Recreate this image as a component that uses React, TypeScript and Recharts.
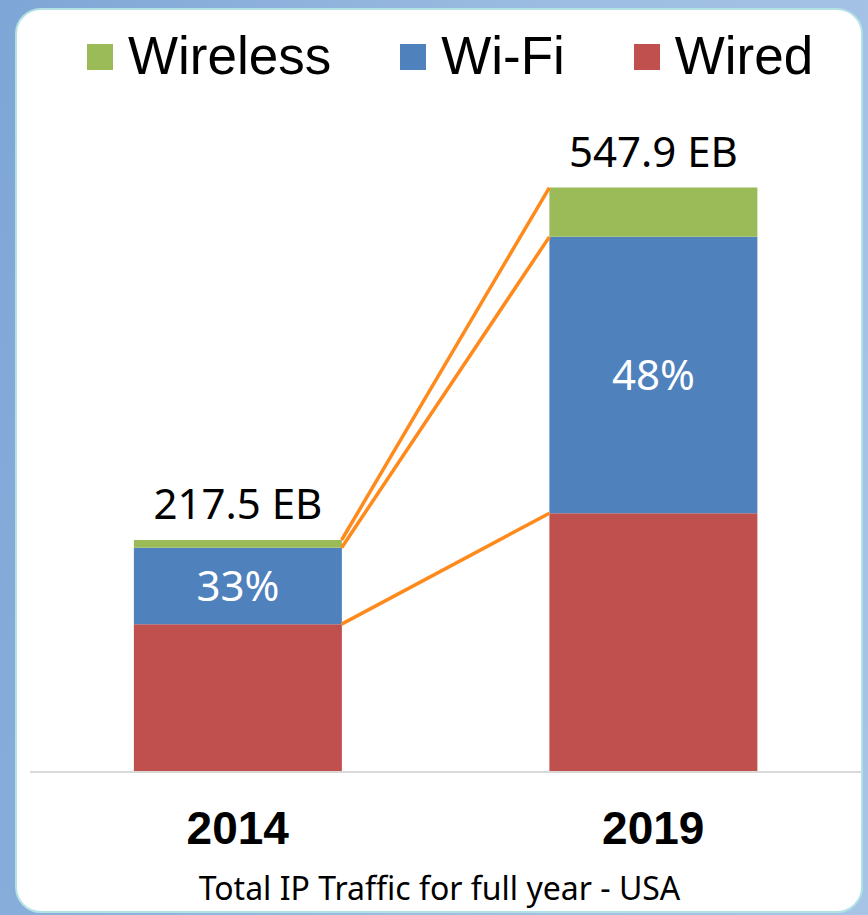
import React from "react";
import {
  BarChart,
  Bar,
  XAxis,
  YAxis,
  LabelList,
  ReferenceLine,
  Label,
} from "recharts";

const years = ["2014", "2019"];
const wired = [138.6, 242.6];
const wifi = [71.7, 259.1];
const wireless = [7.2, 46.2];
const wifiShare = [33, 48];

const seriesNames = ["Wireless", "Wi-Fi", "Wired"];
const seriesColors = ["#9BBB59", "#4F81BD", "#C0504D"];

const data = years.map((year, i) => ({
  year,
  wired: wired[i],
  wifi: wifi[i],
  wireless: wireless[i],
  total: wired[i] + wifi[i] + wireless[i],
  share: wifiShare[i],
}));

// stack tops joined by the orange lines: wired, wired+wifi, total
const connectors = [
  [wired[0], wired[1]],
  [wired[0] + wifi[0], wired[1] + wifi[1]],
  [data[0].total, data[1].total],
];

// bar is 50% of its band (barCategoryGap 25%), so half a bar = 0.25 of the band step
const barHalf = 0.25;

const SANS = "'Liberation Sans', Arial, sans-serif";
const CAL = "'Noto Sans', sans-serif";

const YearTick = ({ x, y, payload }: any) => (
  <text
    x={x}
    y={y + 64}
    textAnchor="middle"
    fontFamily={SANS}
    fontWeight="bold"
    fontSize={46}
    fill="#000"
  >
    {payload.value}
  </text>
);

// segment comes in centre to centre; pull the ends out to the bar edges
const EdgeLine = (p: any) => {
  const d = (p.x2 - p.x1) * barHalf;
  return (
    <line
      x1={p.x1 + d}
      y1={p.y1}
      x2={p.x2 - d}
      y2={p.y2}
      stroke="#FF8A1C"
      strokeWidth={3.5}
    />
  );
};

export default function App() {
  return (
    <div
      style={{
        position: "absolute",
        left: 0,
        top: 0,
        width: 868,
        height: 915,
        overflow: "hidden",
        background: "linear-gradient(100deg, #7ea6d6 0%, #9dbde2 55%, #a6c4e6 100%)",
      }}
    >
      <div
        style={{
          position: "absolute",
          left: 15,
          top: 8,
          width: 844,
          height: 901,
          background: "#fff",
          border: "2px solid #b3e2e4",
          borderRadius: 26,
        }}
      />

      <div
        style={{
          position: "absolute",
          left: 87,
          top: 29,
          display: "flex",
          gap: 69,
          fontFamily: SANS,
          fontSize: 53,
          lineHeight: "53px",
          color: "#000",
        }}
      >
        {seriesNames.map((name, i) => (
          <div key={name} style={{ display: "flex", alignItems: "flex-start", gap: 15 }}>
            <div
              style={{
                width: 26,
                height: 26,
                marginTop: 15,
                background: seriesColors[i],
              }}
            />
            <span>{name}</span>
          </div>
        ))}
      </div>

      <div style={{ position: "absolute", left: 0, top: 0 }}>
        <BarChart
          width={868}
          height={915}
          data={data}
          margin={{ top: 132, right: 7, bottom: 0, left: 30 }}
          barCategoryGap="25%"
        >
          <XAxis
            dataKey="year"
            height={143}
            interval={0}
            tickLine={false}
            axisLine={{ stroke: "#d9d9d9", strokeWidth: 2 }}
            tick={<YearTick />}
          >
            <Label
              value="Total IP Traffic for full year - USA"
              position="insideBottom"
              offset={15}
              dx={-6}
              style={{ fontFamily: CAL, fontSize: 32, fill: "#000" }}
            />
          </XAxis>
          <YAxis hide domain={[0, 600]} />

          <Bar dataKey="wired" stackId="a" fill={seriesColors[2]} isAnimationActive={false} />
          <Bar dataKey="wifi" stackId="a" fill={seriesColors[1]} isAnimationActive={false}>
            <LabelList
              dataKey="share"
              position="center"
              formatter={(v: any) => `${v}%`}
              style={{ fontFamily: CAL, fontSize: 42, fill: "#fff" }}
            />
          </Bar>
          <Bar dataKey="wireless" stackId="a" fill={seriesColors[0]} isAnimationActive={false}>
            <LabelList
              dataKey="total"
              position="top"
              offset={21}
              formatter={(v: any) => `${Number(v).toFixed(1)} EB`}
              style={{ fontFamily: CAL, fontSize: 42, fill: "#000" }}
            />
          </Bar>

          {connectors.map(([a, b], i) => (
            <ReferenceLine
              key={i}
              segment={[
                { x: years[0], y: a },
                { x: years[1], y: b },
              ]}
              shape={EdgeLine}
              ifOverflow="visible"
            />
          ))}
        </BarChart>
      </div>
    </div>
  );
}
